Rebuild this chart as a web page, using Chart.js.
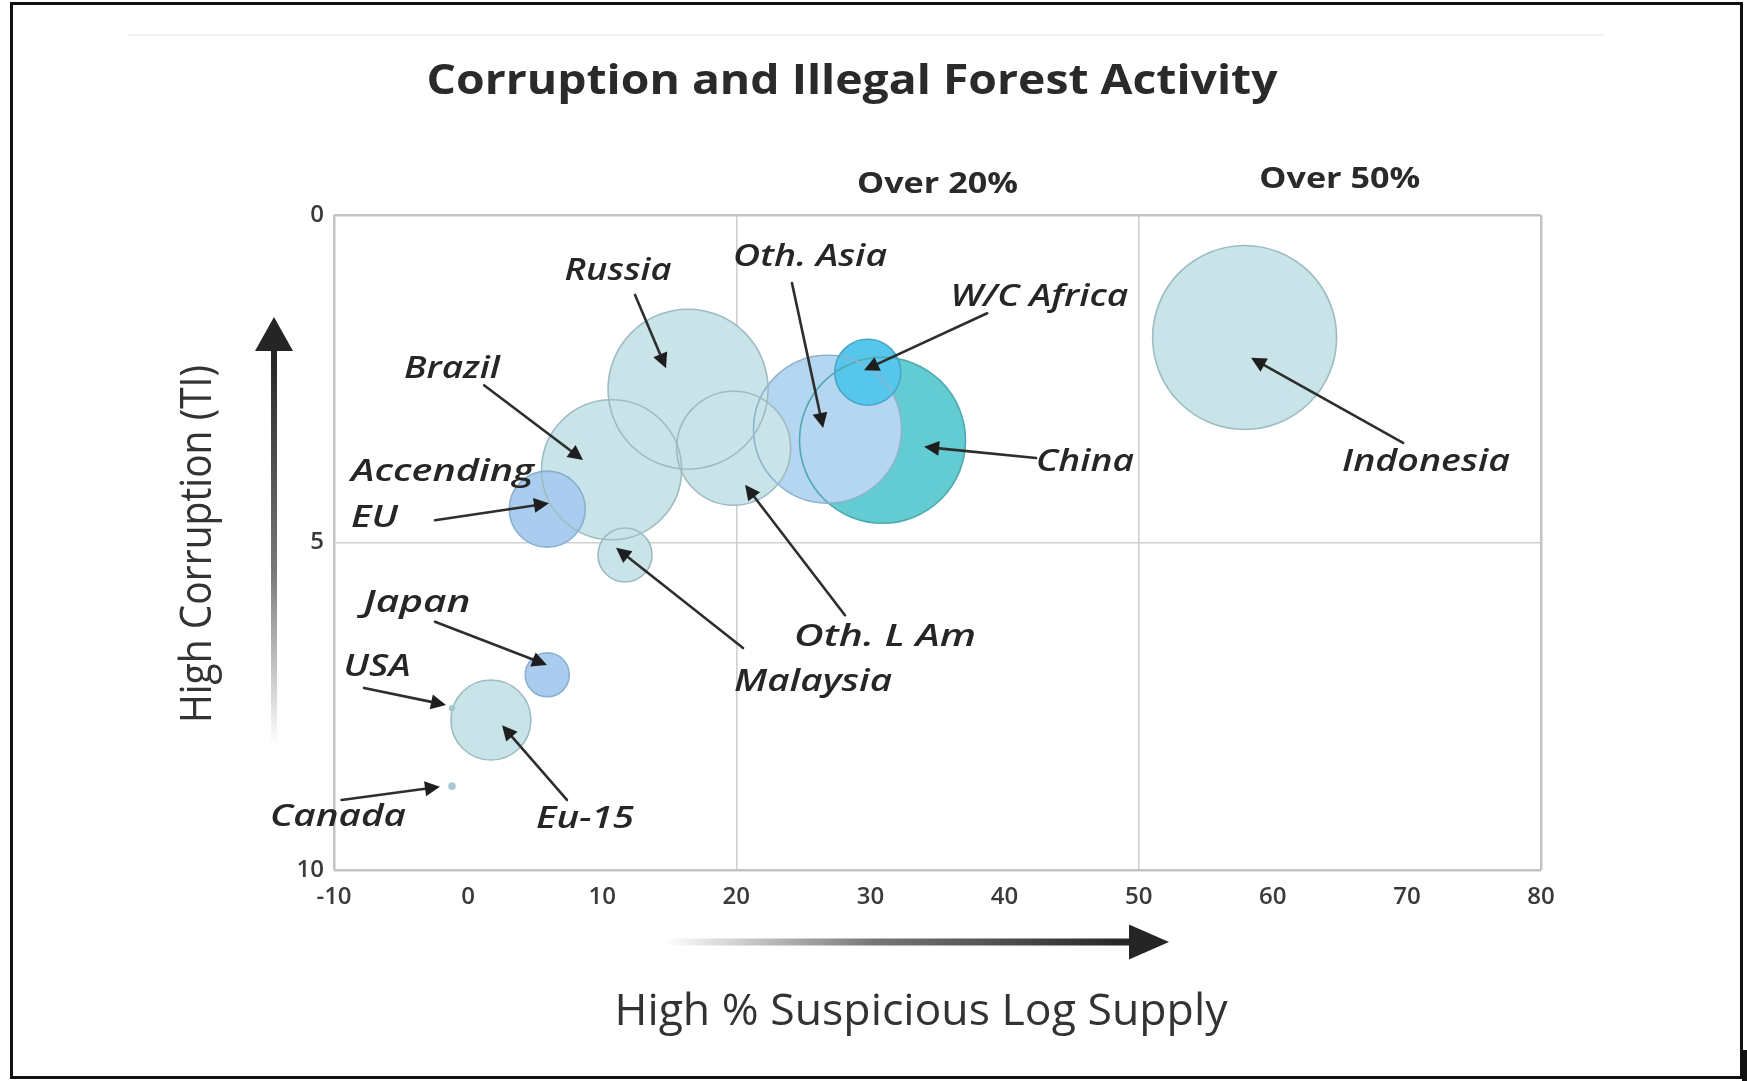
<!DOCTYPE html>
<html>
<head>
<meta charset="utf-8">
<script src="https://cdn.jsdelivr.net/npm/chart.js@4/dist/chart.umd.min.js"></script>
<style>
  html, body { margin: 0; padding: 0; background: #fff; }
  #wrap { width: 1747px; height: 1081px; position: relative; }
  canvas { display: block; }
</style>
</head>
<body>
<div id="wrap"><canvas id="c" width="1747" height="1081"></canvas></div>
<script>
// ---------------- DATA ----------------
// drawing order (first = bottom)
const categories = ['Indonesia', 'China', 'Oth. Asia', 'W/C Africa', 'Russia', 'Oth. L Am', 'Brazil',
                    'Accending EU', 'Malaysia', 'Eu-15', 'Japan', 'USA', 'Canada'];
const suspiciousLogSupply = [57.9, 30.9, 26.8, 29.8, 16.4, 19.8, 10.7, 5.9, 11.7, 1.7, 5.9, -1.2, -1.2];
const corruptionTI        = [1.87, 3.44, 3.27, 2.40, 2.66, 3.56, 3.89, 4.49, 5.19, 7.71, 7.02, 7.53, 8.72];
const bubbleRadius        = [92, 83, 74, 33, 80, 57, 70, 38, 27, 40, 22, 2.5, 3];

const xTickLabels = [-10, 0, 10, 20, 30, 40, 50, 60, 70, 80];
const yTickLabels = [0, 5, 10];
const thresholdValues = [20, 50];
const thresholdLabels = ['Over 20%', 'Over 50%'];
const corruptionThreshold = 5;

// ---------------- STYLES / LAYOUT ----------------
const pale  = { fill: '#c9e4e9', border: '#9dbcc2' };
const blue  = { fill: '#b5d6f1', border: '#8db3d1' };
const blue2 = { fill: '#aacdef', border: '#88afd0' };
const cyan  = { fill: '#57c6ec', border: '#45a6c6' };
const teal  = { fill: '#63cbd2', border: '#4ea9b0' };
const dot   = { fill: '#a8c9d1', border: '#a8c9d1' };
const bubbleStyle = {
  'Indonesia': pale, 'China': teal, 'Oth. Asia': blue, 'W/C Africa': cyan, 'Russia': pale,
  'Oth. L Am': pale, 'Brazil': pale, 'Accending EU': blue2, 'Malaysia': pale, 'Eu-15': pale,
  'Japan': blue2, 'USA': dot, 'Canada': dot
};

// callout texts: position in data coordinates (center of cap height), target width in px
const calloutTexts = [
  { t: 'Russia',     x: 11.18, y: 0.82, w: 107, align: 'center' },
  { t: 'Brazil',     x: -1.20, y: 2.32, w: 96,  align: 'center' },
  { t: 'Accending',  x: -8.73, y: 3.89, w: 183, align: 'left' },
  { t: 'EU',         x: -8.73, y: 4.60, w: 47,  align: 'left' },
  { t: 'Oth. Asia',  x: 25.50, y: 0.61, w: 154, align: 'center' },
  { t: 'W/C Africa', x: 42.60, y: 1.22, w: 178, align: 'center' },
  { t: 'China',      x: 46.00, y: 3.74, w: 98,  align: 'center' },
  { t: 'Indonesia',  x: 71.43, y: 3.74, w: 168, align: 'center' },
  { t: 'Oth. L Am',  x: 31.09, y: 6.41, w: 182, align: 'center' },
  { t: 'Malaysia',   x: 25.72, y: 7.10, w: 158, align: 'center' },
  { t: 'Japan',      x: -3.81, y: 5.89, w: 107, align: 'center' },
  { t: 'USA',        x: -6.79, y: 6.87, w: 67,  align: 'center' },
  { t: 'Canada',     x: -9.70, y: 9.16, w: 136, align: 'center' },
  { t: 'Eu-15',      x: 8.72,  y: 9.19, w: 98,  align: 'center' }
];
// leader arrows in data coordinates
const calloutArrows = [
  { from: [12.45, 1.22], to: [14.76, 2.34] },
  { from: [1.19, 2.60],  to: [8.57, 3.74] },
  { from: [-2.47, 4.66], to: [6.03, 4.40] },
  { from: [24.15, 1.04], to: [26.47, 3.25] },
  { from: [38.70, 1.50], to: [29.52, 2.37] },
  { from: [42.35, 3.71], to: [34.00, 3.54] },
  { from: [69.72, 3.48], to: [58.38, 2.18] },
  { from: [28.10, 6.11], to: [20.65, 4.12] },
  { from: [20.50, 6.61], to: [11.03, 5.08] },
  { from: [-2.47, 6.21], to: [5.88, 6.87] },
  { from: [-7.76, 7.22], to: [-1.65, 7.48] },
  { from: [-9.44, 8.93], to: [-2.10, 8.73] },
  { from: [7.37, 8.93],  to: [2.53, 7.79] }
];

const FONT = '"Open Sans", "DejaVu Sans", sans-serif';

function fitText(ctx, text, x, y, targetW, align) {
  const w = ctx.measureText(text).width;
  const s = targetW ? targetW / w : 1;
  ctx.save();
  ctx.translate(x, y);
  ctx.scale(s, 1);
  ctx.textAlign = align || 'center';
  ctx.fillText(text, 0, 0);
  ctx.restore();
}

function arrowLine(ctx, x0, y0, x1, y1, len, half) {
  const a = Math.atan2(y1 - y0, x1 - x0);
  const bx = x1 - len * Math.cos(a), by = y1 - len * Math.sin(a);
  ctx.beginPath();
  ctx.moveTo(x0, y0);
  ctx.lineTo(bx, by);
  ctx.stroke();
  ctx.beginPath();
  ctx.moveTo(x1, y1);
  ctx.lineTo(bx + half * Math.sin(a), by - half * Math.cos(a));
  ctx.lineTo(bx - half * Math.sin(a), by + half * Math.cos(a));
  ctx.closePath();
  ctx.fill();
}

const decorPlugin = {
  id: 'decor',
  beforeDraw(chart) {
    const ctx = chart.ctx;
    ctx.save();
    ctx.fillStyle = '#fff';
    ctx.fillRect(0, 0, chart.width, chart.height);
    ctx.restore();
  },
  afterDraw(chart) {
    const ctx = chart.ctx;
    const xs = chart.scales.x, ys = chart.scales.y;
    ctx.save();

    // outer frame
    ctx.strokeStyle = '#111';
    ctx.lineWidth = 3;
    ctx.strokeRect(11.5, 3.5, 1730, 1074);
    ctx.fillStyle = '#111';
    ctx.fillRect(1742, 1050, 5, 31);
    // faint line near top
    ctx.strokeStyle = '#f0f0f0';
    ctx.lineWidth = 2;
    ctx.beginPath(); ctx.moveTo(128, 35); ctx.lineTo(1604, 35); ctx.stroke();

    // title
    ctx.fillStyle = '#2a2a2a';
    ctx.textBaseline = 'alphabetic';
    ctx.font = 'bold 42px ' + FONT;
    fitText(ctx, 'Corruption and Illegal Forest Activity', 852, 94, 851, 'center');

    // threshold headers
    ctx.font = 'bold 28px ' + FONT;
    const bounds = thresholdValues.concat([xs.max]);
    thresholdLabels.forEach((lab, i) => {
      const cx = (xs.getPixelForValue(bounds[i]) + xs.getPixelForValue(bounds[i + 1])) / 2;
      fitText(ctx, lab, cx, i === 0 ? 193 : 188, 161, 'center');
    });

    // axis titles
    ctx.fillStyle = '#333';
    ctx.font = '400 44px ' + FONT;
    fitText(ctx, 'High % Suspicious Log Supply', 921, 1025, 613, 'center');
    ctx.save();
    ctx.translate(211, 544);
    ctx.rotate(-Math.PI / 2);
    fitText(ctx, 'High Corruption (TI)', 0, 0, 358, 'center');
    ctx.restore();

    // gradient axis arrows
    let g = ctx.createLinearGradient(0, 745, 0, 350);
    g.addColorStop(0, 'rgba(60,60,60,0)');
    g.addColorStop(0.45, 'rgba(60,60,60,0.7)');
    g.addColorStop(1, 'rgba(35,35,35,1)');
    ctx.fillStyle = g;
    ctx.fillRect(271, 345, 6, 400);
    ctx.fillStyle = '#252525';
    ctx.beginPath(); ctx.moveTo(274, 317); ctx.lineTo(293, 351); ctx.lineTo(255, 351); ctx.closePath(); ctx.fill();

    g = ctx.createLinearGradient(665, 0, 1130, 0);
    g.addColorStop(0, 'rgba(60,60,60,0)');
    g.addColorStop(0.45, 'rgba(60,60,60,0.7)');
    g.addColorStop(1, 'rgba(35,35,35,1)');
    ctx.fillStyle = g;
    ctx.fillRect(665, 938.5, 468, 7);
    ctx.fillStyle = '#252525';
    ctx.beginPath(); ctx.moveTo(1169, 942); ctx.lineTo(1129, 924.5); ctx.lineTo(1129, 959.5); ctx.closePath(); ctx.fill();

    // callout arrows
    ctx.strokeStyle = '#2e2e2e';
    ctx.fillStyle = '#1e1e1e';
    ctx.lineWidth = 2.6;
    ctx.lineCap = 'round';
    calloutArrows.forEach(a => {
      arrowLine(ctx,
        xs.getPixelForValue(a.from[0]), ys.getPixelForValue(a.from[1]),
        xs.getPixelForValue(a.to[0]), ys.getPixelForValue(a.to[1]), 15, 7.5);
    });

    // callout texts
    ctx.fillStyle = '#262626';
    const size = 31;
    ctx.font = 'italic 600 ' + size + 'px ' + FONT;
    const cap = size * 0.714;
    calloutTexts.forEach(c => {
      fitText(ctx, c.t, xs.getPixelForValue(c.x), ys.getPixelForValue(c.y) + cap / 2, c.w, c.align);
    });
    ctx.restore();
  }
};

const points = categories.map((c, i) => ({ x: suspiciousLogSupply[i], y: corruptionTI[i], r: bubbleRadius[i] }));

const boundaryX = [xTickLabels[0], xTickLabels[xTickLabels.length - 1]];

new Chart(document.getElementById('c').getContext('2d'), {
  type: 'bubble',
  data: {
    datasets: [
      {
        label: 'outline', data: points, order: 0, clip: false,
        backgroundColor: 'rgba(0,0,0,0)',
        borderColor: categories.map(c => bubbleStyle[c].border),
        borderWidth: 1.6, hoverRadius: 0, hitRadius: 0
      },
      {
        label: 'fill', data: points, order: 1, clip: false,
        backgroundColor: categories.map(c => bubbleStyle[c].fill),
        borderWidth: 0, hoverRadius: 0, hitRadius: 0
      }
    ]
  },
  options: {
    responsive: false,
    animation: false,
    events: [],
    layout: { padding: { left: 0, top: 215, right: 206, bottom: 0 } },
    plugins: { legend: { display: false }, tooltip: { enabled: false }, title: { display: false } },
    scales: {
      x: {
        type: 'linear', min: xTickLabels[0], max: xTickLabels[xTickLabels.length - 1], z: 1,
        afterBuildTicks: s => { s.ticks = xTickLabels.map(v => ({ value: v })); },
        afterFit: s => { s.height = 211; },
        ticks: {
          padding: 13, color: '#3a3a3a',
          font: { family: FONT, size: 24, weight: '600' },
          callback: v => String(v)
        },
        grid: {
          drawTicks: false,
          color: c => boundaryX.includes(c.tick.value) ? '#c3c3c3'
                    : thresholdValues.includes(c.tick.value) ? '#cfcfcf' : 'rgba(0,0,0,0)',
          lineWidth: c => boundaryX.includes(c.tick.value) ? 2.5 : 1.6
        },
        border: { display: false }
      },
      y: {
        type: 'linear', min: yTickLabels[0], max: yTickLabels[yTickLabels.length - 1], reverse: true,
        afterBuildTicks: s => { s.ticks = yTickLabels.map(v => ({ value: v })); },
        afterFit: s => { s.width = 334; },
        ticks: {
          padding: 10, color: '#3a3a3a',
          font: { family: FONT, size: 24, weight: '600' },
          callback: v => String(v)
        },
        grid: {
          drawTicks: false,
          color: c => c.tick.value === corruptionThreshold ? '#cfcfcf' : '#c3c3c3',
          lineWidth: c => c.tick.value === corruptionThreshold ? 1.6 : 2.5
        },
        border: { display: false }
      }
    }
  },
  plugins: [decorPlugin]
});
</script>
</body>
</html>
